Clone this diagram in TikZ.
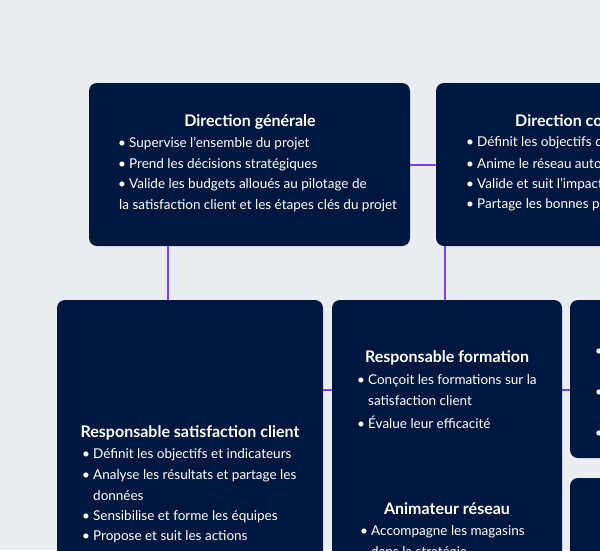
\documentclass[tikz,border=0pt]{standalone}
\usepackage{fontspec}
\setmainfont{Lato}
\usetikzlibrary{positioning}
\definecolor{bgcol}{HTML}{E9EDF1}
\definecolor{navy}{HTML}{001840}
\definecolor{linkcol}{HTML}{7B3FF0}
\tikzset{
  card/.style={fill=navy, rounded corners=8pt},
  ttl/.style={text=white, font=\fontsize{16}{19}\selectfont\bfseries, inner sep=0pt},
  txt/.style={text=white, font=\fontsize{13.5}{20.5}\selectfont, inner sep=0pt, anchor=west, align=left},
  link/.style={linkcol, line width=2.2pt}
}
\newcommand{\bl}{\makebox[11pt][l]{\textbullet}}
\begin{document}
\begin{tikzpicture}[x=1pt, y=-1pt]
\fill[bgcol] (0,0) rectangle (600,550);
\clip (0,0) rectangle (600,550);
\useasboundingbox (0,0) rectangle (600,550);

\coordinate (dg bot) at (168,246);
\coordinate (dc bot) at (445,246);

% cards
\fill[card] (89,83) rectangle (410,246);
\fill[card] (436,83) rectangle (640,246);
\fill[card] (57,300) rectangle (323,600);
\fill[card] (332,300) rectangle (562,600);
\fill[card] (570,300) rectangle (640,458);
\fill[card] (570,478) rectangle (640,600);

\node[ttl] (dg) at (250,122) {Direction générale};
\node[txt] (dg1) at (118,144) {\bl Supervise l'ensemble du projet};
\node[txt] (dg2) at (118,165) {\bl Prend les décisions stratégiques};
\node[txt] (dg3) at (118,185) {\bl Valide les budgets alloués au pilotage de};
\node[txt] (dg4) at (119,206) {la satisfaction client et les étapes clés du projet};

\node[ttl, anchor=west] (dc) at (515,121) {Direction commerciale};
\node[txt] (dc1) at (466,143) {\bl Définit les objectifs de satisfaction};
\node[txt] (dc2) at (466,164) {\bl Anime le réseau autour de la démarche};
\node[txt] (dc3) at (466,184) {\bl Valide et suit l'impact des actions};
\node[txt] (dc4) at (466,205) {\bl Partage les bonnes pratiques};

\node[ttl] (rsc) at (190,433) {Responsable satisfaction client};
\node[txt] (rsc1) at (82,455) {\bl Définit les objectifs et indicateurs};
\node[txt] (rsc2) at (82,476) {\bl Analyse les résultats et partage les};
\node[txt] (rsc3) at (93,496) {données};
\node[txt] (rsc4) at (82,517) {\bl Sensibilise et forme les équipes};
\node[txt] (rsc5) at (82,537) {\bl Propose et suit les actions};

\node[ttl] (rf) at (447,358) {Responsable formation};
\node[txt] (rf1) at (357,381) {\bl Conçoit les formations sur la};
\node[txt] (rf2) at (368,401) {satisfaction client};
\node[txt] (rf3) at (357,422) {\bl Évalue leur efficacité};

\node[ttl] (ar) at (447,509) {Animateur réseau};
\node[txt] (ar1) at (360,532) {\bl Accompagne les magasins};
\node[txt] (ar2) at (371,553) {dans la stratégie};

\node[txt] (rt1) at (595,351) {\bl Suit};
\node[txt] (rt2) at (595,392) {\bl Mesure};
\node[txt] (rt3) at (595,433) {\bl Rend};

% links
\draw[link] (410,165) -- (436,165);
\draw[link] (dg bot) -- (168,300);
\draw[link] (dc bot) -- (445,300);
\draw[link] (323,390) -- (332,390);
\draw[link] (562,390) -- (570,390);
\end{tikzpicture}
\end{document}
